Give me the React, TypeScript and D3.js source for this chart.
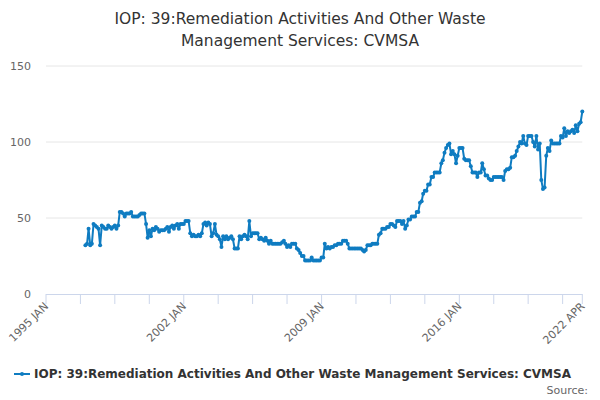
import React from 'react'
import * as d3 from 'd3'

// 数据：1997 JAN 起，每月一个值
const START_YEAR = 1997
const values1997 = [32, 33, 43, 32, 33, 46, 45, 44, 43, 32, 45, 44]
const values1998 = [43, 43, 45, 44, 43, 44, 45, 43, 45, 54, 54, 53]
const values1999 = [51, 53, 53, 53, 54, 51, 51, 51, 51, 52, 53, 53]
const values2000 = [53, 46, 37, 42, 38, 43, 42, 44, 43, 41, 42, 42]
const values2001 = [42, 43, 44, 41, 44, 45, 43, 45, 46, 43, 46, 46]
const values2002 = [46, 48, 48, 48, 40, 38, 39, 38, 38, 39, 38, 40]
const values2003 = [46, 47, 45, 47, 46, 38, 40, 46, 39, 38, 36, 31]
const values2004 = [38, 36, 38, 36, 37, 38, 36, 30, 30, 30, 38, 36]
const values2005 = [38, 39, 38, 36, 48, 38, 40, 40, 40, 40, 36, 37]
const values2006 = [36, 35, 37, 35, 33, 35, 33, 33, 33, 33, 33, 33]
const values2007 = [34, 35, 33, 31, 32, 31, 33, 33, 33, 30, 29, 27]
const values2008 = [25, 25, 22, 22, 22, 22, 24, 22, 22, 22, 22, 22]
const values2009 = [24, 24, 33, 30, 31, 30, 31, 31, 32, 32, 33, 33]
const values2010 = [33, 35, 35, 35, 33, 30, 30, 30, 30, 30, 30, 30]
const values2011 = [30, 29, 28, 29, 32, 32, 32, 33, 33, 33, 33, 39]
const values2012 = [40, 43, 43, 43, 44, 44, 46, 46, 45, 44, 48, 48]
const values2013 = [48, 46, 48, 43, 45, 49, 49, 51, 51, 51, 54, 54]
const values2014 = [60, 61, 66, 68, 68, 72, 72, 77, 77, 80, 80, 80]
const values2015 = [80, 86, 88, 93, 96, 98, 99, 92, 94, 92, 86, 91]
const values2016 = [96, 96, 96, 89, 88, 88, 88, 84, 80, 80, 80, 77]
const values2017 = [80, 80, 86, 82, 78, 78, 76, 75, 75, 77, 77, 77]
const values2018 = [77, 77, 77, 75, 81, 82, 82, 83, 90, 90, 91, 94]
const values2019 = [97, 100, 99, 104, 99, 98, 104, 104, 104, 100, 97, 104]
const values2020 = [95, 99, 75, 69, 70, 91, 96, 94, 101, 99, 99, 99]
const values2021 = [99, 99, 104, 103, 109, 104, 107, 106, 107, 108, 106, 111]
const values2022 = [107, 112, 113, 120]

const yTicks = [0, 50, 100, 150]
const xTickLabels = ['1995 JAN', '2002 JAN', '2009 JAN', '2016 JAN', '2022 APR']

const TITLE_1 = 'IOP: 39:Remediation Activities And Other Waste'
const TITLE_2 = 'Management Services: CVMSA'
const SERIES_NAME = 'IOP: 39:Remediation Activities And Other Waste Management Services: CVMSA'

const COLOR = '#0f7cc1'
const FONT = '"DejaVu Sans", sans-serif'

const App = () => {
    const w = 600, h = 400
    const left = 46, right = 582.3, top = 66, bottom = 294

    const allValues = [
        values1997, values1998, values1999, values2000, values2001, values2002, values2003,
        values2004, values2005, values2006, values2007, values2008, values2009, values2010,
        values2011, values2012, values2013, values2014, values2015, values2016, values2017,
        values2018, values2019, values2020, values2021, values2022
    ].flat()

    const data = allValues.map((v, i) => ({ date: new Date(START_YEAR, i, 1), value: v }))

    const xStart = new Date(1995, 0, 1)
    const xEnd = new Date(2022, 3, 1)
    const x = d3.scaleTime().domain([xStart, xEnd]).range([left, right])
    const y = d3.scaleLinear().domain([0, 150]).range([bottom, top])

    // 每 21 个月一个刻度，最后加上终点
    const ticks: Date[] = []
    for (let i = 0; ; i++) {
        const t = d3.timeMonth.offset(xStart, 21 * i)
        if (t >= xEnd) break
        ticks.push(t)
    }
    ticks.push(xEnd)
    const labelled = ticks.filter((t, i) => i % 4 === 0 && i < ticks.length - 1).concat([xEnd])

    const line = d3.line<{ date: Date, value: number }>()
        .x(d => x(d.date))
        .y(d => y(d.value))

    return (
        <svg width={w} height={h} style={{ position: 'absolute', left: 0, top: 0, background: '#fff' }} fontFamily={FONT}>
            <text x={300} y={24} textAnchor="middle" fontSize={15.5} fill="#333">{TITLE_1}</text>
            <text x={300} y={46} textAnchor="middle" fontSize={15.5} fill="#333">{TITLE_2}</text>

            {yTicks.filter(t => t > 0).map(t => (
                <line key={'g' + t} x1={left} x2={right} y1={y(t)} y2={y(t)} stroke="#e6e6e6" strokeWidth={1} />
            ))}
            {yTicks.map(t => (
                <text key={'yl' + t} x={31} y={y(t) + 4} textAnchor="end" fontSize={11} fill="#666">{t}</text>
            ))}

            <line x1={left} x2={right} y1={bottom + 0.5} y2={bottom + 0.5} stroke="#ccd6eb" strokeWidth={1} />
            {ticks.map((t, i) => (
                <line key={'t' + i} x1={x(t)} x2={x(t)} y1={bottom} y2={bottom + 10} stroke="#ccd6eb" strokeWidth={1} />
            ))}
            {labelled.map((t, i) => (
                <text key={'xl' + i} transform={`translate(${x(t) + 3},${bottom + 13}) rotate(-45)`}
                    textAnchor="end" fontSize={11} fill="#666">{xTickLabels[i]}</text>
            ))}

            <path d={line(data) ?? ''} fill="none" stroke={COLOR} strokeWidth={2} strokeLinejoin="round" />
            {data.map((d, i) => (
                <circle key={'p' + i} cx={x(d.date)} cy={y(d.value)} r={2} fill={COLOR} />
            ))}

            <line x1={14} x2={30} y1={374} y2={374} stroke={COLOR} strokeWidth={2} />
            <circle cx={22} cy={374} r={2} fill={COLOR} />
            <text x={34} y={378} fontSize={12} fontWeight="bold" fill="#333">{SERIES_NAME}</text>

            <text x={588} y={394} textAnchor="end" fontSize={11} fill="#666">Source:</text>
        </svg>
    )
}

export default App
